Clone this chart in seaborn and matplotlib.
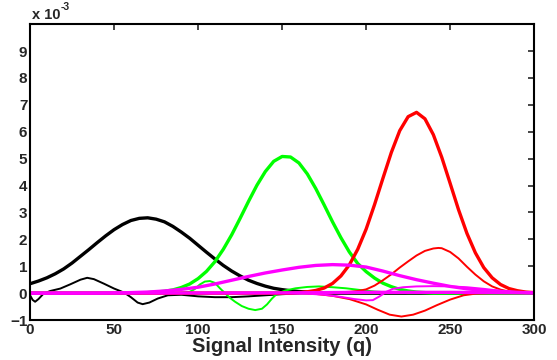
import matplotlib
matplotlib.use("Agg")
import matplotlib.pyplot as plt
import seaborn as sns
import pandas as pd
import numpy as np

# values, in units of 1e-3
x_grid = list(range(0, 305, 5))

black_thick = [0.35, 0.45, 0.57, 0.72, 0.90, 1.12, 1.37, 1.62, 1.88, 2.13,
               2.36, 2.55, 2.70, 2.78, 2.80, 2.75, 2.65, 2.48, 2.27, 2.04,
               1.78, 1.52, 1.27, 1.03, 0.82, 0.64, 0.48, 0.36, 0.26, 0.18,
               0.13, 0.09, 0.06, 0.04, 0.02, 0.01] + [0] * 25

green_thick = [0] * 14 + [0.02, 0.04, 0.07, 0.12, 0.21, 0.34, 0.54, 0.81, 1.17, 1.63,
                          2.17, 2.78, 3.41, 4.01, 4.52, 4.90, 5.08, 5.06, 4.84, 4.43,
                          3.89, 3.28, 2.65, 2.06, 1.53, 1.10, 0.80, 0.56, 0.37, 0.24,
                          0.14, 0.08, 0.04, 0.02] + [0] * 13

red_thick = [0] * 32 + [0.02, 0.05, 0.10, 0.19, 0.36, 0.64, 1.05, 1.63, 2.38, 3.29,
                        4.27, 5.23, 6.04, 6.56, 6.72, 6.48, 5.89, 5.05, 4.08, 3.10,
                        2.22, 1.50, 0.95, 0.57, 0.32, 0.17, 0.09, 0.04, 0.02]

black_thin_x = [0, 1.5, 3, 5, 8, 12, 18, 24, 30, 34, 38, 44, 50, 56, 60, 64, 67, 71,
                76, 82, 90, 100, 110, 120, 130, 140, 150, 160, 170, 300]
black_thin = [-0.08, -0.25, -0.32, -0.22, -0.02, 0.08, 0.17, 0.33, 0.50, 0.57, 0.52,
              0.35, 0.17, 0.02, -0.15, -0.35, -0.41, -0.35, -0.20, -0.08, -0.06,
              -0.12, -0.15, -0.15, -0.12, -0.08, -0.04, -0.01, 0, 0]

green_thin_x = [0, 85, 90, 95, 98, 101, 104, 107, 110, 113, 116, 119, 122, 126, 130,
                134, 138, 141, 144, 147, 152, 158, 165, 172, 180, 188, 196, 205, 215,
                225, 300]
green_thin = [0, 0, 0.01, 0.05, 0.15, 0.32, 0.43, 0.45, 0.38, 0.18, 0, -0.18, -0.32,
              -0.48, -0.58, -0.63, -0.58, -0.42, -0.20, -0.02, 0.10, 0.18, 0.23, 0.25,
              0.22, 0.18, 0.12, 0.06, 0.02, 0, 0]

red_up_x = [0, 180, 190, 195, 200, 205, 210, 215, 220, 225, 230, 235, 240, 243, 245,
            250, 255, 260, 265, 270, 275, 280, 285, 290, 295, 300]
red_up = [0, 0.02, 0.05, 0.08, 0.14, 0.28, 0.48, 0.70, 0.95, 1.18, 1.40, 1.57, 1.66,
          1.68, 1.67, 1.53, 1.29, 0.98, 0.69, 0.44, 0.25, 0.13, 0.06, 0.03, 0.01, 0]

red_down_x = [0, 160, 170, 180, 190, 200, 207, 214, 221, 228, 235, 242, 250, 258, 265,
              275, 300]
red_down = [0, 0, -0.03, -0.10, -0.22, -0.42, -0.62, -0.80, -0.87, -0.80, -0.65, -0.45,
            -0.24, -0.08, -0.02, 0, 0]

magenta_x = [0, 40, 60, 70, 80, 90, 100, 110, 120, 130, 140, 150, 160, 170, 180, 190,
             200, 210, 220, 230, 240, 250, 260, 270, 280, 290, 300]
magenta_thick = [0, 0, 0.02, 0.04, 0.08, 0.14, 0.22, 0.34, 0.48, 0.62, 0.75, 0.86, 0.96,
                 1.03, 1.06, 1.04, 0.97, 0.82, 0.65, 0.50, 0.37, 0.25, 0.16, 0.10, 0.06,
                 0.03, 0.01]

magenta_flat_x = [0, 150, 200, 250, 300]
magenta_flat = [0, 0.01, 0.03, 0.03, 0.01]

magenta_thin_x = [0, 150, 165, 175, 185, 193, 200, 204, 208, 212, 216, 222, 230, 240,
                  250, 260, 270, 280, 290, 300]
magenta_thin = [0, 0, -0.02, -0.06, -0.14, -0.22, -0.27, -0.26, -0.12, 0.05, 0.16,
                0.22, 0.25, 0.26, 0.25, 0.22, 0.16, 0.09, 0.04, 0.01]

lines = [
    (x_grid, black_thick, "black", 2.4),
    (black_thin_x, black_thin, "black", 1.4),
    (x_grid, green_thick, "#00ff00", 2.4),
    (green_thin_x, green_thin, "#00ff00", 1.4),
    (x_grid, red_thick, "#ff0000", 2.4),
    (red_up_x, red_up, "#ff0000", 1.4),
    (red_down_x, red_down, "#ff0000", 1.4),
    (magenta_flat_x, magenta_flat, "#ff00ff", 2.4),
    (magenta_x, magenta_thick, "#ff00ff", 2.4),
    (magenta_thin_x, magenta_thin, "#ff00ff", 1.4),
]

sns.set_style("white")
plt.rcParams['font.family'] = ['Liberation Sans', 'DejaVu Sans']
plt.rcParams['font.weight'] = 'bold'

fig = plt.figure(figsize=(5.57, 3.6), dpi=100)
ax = fig.add_axes([0.054, 0.111, 0.905, 0.822])

for xs, ys, col, lw in lines:
    sns.lineplot(x=xs, y=ys, color=col, linewidth=lw, ax=ax,
                 estimator=None, sort=False)

ax.set_xlim(0, 300)
ax.set_ylim(-1, 10)
ax.set_xticks(range(0, 301, 50))
ax.set_yticks(range(-1, 10))
ax.tick_params(direction='in', length=4, width=1.2, top=True, right=True,
               labelsize=11, pad=2)
for lab in ax.get_xticklabels() + ax.get_yticklabels():
    lab.set_fontweight('bold')
for sp in ax.spines.values():
    sp.set_visible(True)
    sp.set_color('black')
    sp.set_linewidth(1.5)

ax.set_xlabel("Signal Intensity (q)", fontsize=14.5, fontweight='bold', labelpad=0)
ax.set_ylabel("")
ax.text(0.003, 1.006, "x 10", transform=ax.transAxes, fontsize=10.5,
        fontweight='bold', ha='left', va='bottom')
ax.text(0.06, 1.04, "-3", transform=ax.transAxes, fontsize=7.5,
        fontweight='bold', ha='left', va='bottom')

fig.savefig("out.png", dpi=100)
